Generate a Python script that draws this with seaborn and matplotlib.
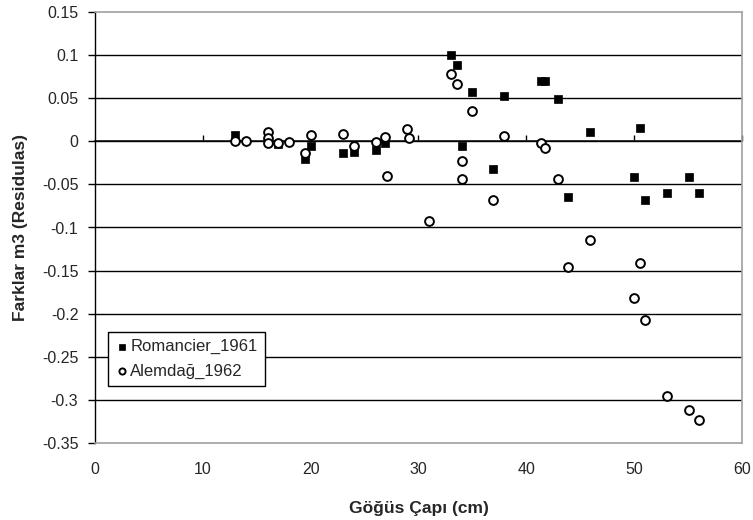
import numpy as np
import pandas as pd
import matplotlib
matplotlib.use("Agg")
import matplotlib.pyplot as plt
import seaborn as sns

# Romancier_1961 (kare, dolu)
rom_x = [13, 17, 19.5, 20, 23, 24, 26.1, 26.9, 33.0, 33.6, 34.0, 35.0, 36.9, 37.9,
         41.4, 41.7, 42.9, 43.9, 45.9, 50.0, 50.5, 51.0, 53.0, 55.1, 56.0]
rom_y = [0.007, -0.003, -0.021, -0.005, -0.014, -0.012, -0.010, -0.002, 0.100, 0.088,
         -0.005, 0.057, -0.032, 0.053, 0.070, 0.070, 0.049, -0.065, 0.011, -0.041,
         0.015, -0.068, -0.060, -0.041, -0.060]

# Alemdağ_1962 (daire, boş)
ale_x = [13, 14, 16, 16, 16, 17, 18, 19.5, 20, 23, 24, 26.1, 26.9, 27.1, 28.9, 29.1,
         31.0, 33.0, 33.6, 34.0, 34.0, 35.0, 36.9, 37.9, 41.4, 41.7, 42.9, 43.9,
         45.9, 50.0, 50.5, 51.0, 53.0, 55.1, 56.0]
ale_y = [0.0, 0.0, 0.011, 0.004, -0.002, -0.002, -0.001, -0.014, 0.007, 0.008, -0.006,
         -0.001, 0.005, -0.040, 0.014, 0.004, -0.093, 0.078, 0.067, -0.023, -0.044,
         0.035, -0.068, 0.006, -0.002, -0.008, -0.044, -0.146, -0.114, -0.182,
         -0.141, -0.207, -0.296, -0.312, -0.323]

x_ticks = [0, 10, 20, 30, 40, 50, 60]
y_ticks = [0.15, 0.1, 0.05, 0, -0.05, -0.1, -0.15, -0.2, -0.25, -0.3, -0.35]
y_labels = ["0.15", "0.1", "0.05", "0", "-0.05", "-0.1", "-0.15", "-0.2", "-0.25", "-0.3", "-0.35"]

sns.set_theme(style="white")
plt.rcParams['font.family'] = ['Liberation Sans', 'DejaVu Sans']

fig = plt.figure(figsize=(7.53, 5.2), dpi=100)
ax = fig.add_axes([95/753, 1 - 443/520, 647/753, 431/520])

# yatay ızgara çizgileri
for yv in y_ticks[1:-1]:
    ax.axhline(yv, color="black", lw=1.0, zorder=1)

df_rom = pd.DataFrame({"x": rom_x, "y": rom_y})
df_ale = pd.DataFrame({"x": ale_x, "y": ale_y})
sns.scatterplot(data=df_rom, x="x", y="y", ax=ax, marker="s", s=38, color="black",
                edgecolor="black", linewidth=0.5, label="Romancier_1961", zorder=3)
sns.scatterplot(data=df_ale, x="x", y="y", ax=ax, marker="o", s=40, facecolor="white",
                edgecolor="black", linewidth=1.4, label="Alemdağ_1962", zorder=4)

ax.set_xlim(0, 60)
ax.set_ylim(-0.35, 0.15)
ax.set_xticks(x_ticks)
ax.set_xticklabels([str(v) for v in x_ticks], fontsize=11.5)
ax.set_yticks(y_ticks)
ax.set_yticklabels(y_labels, fontsize=11.5)
ax.tick_params(axis="x", length=0, pad=14)
ax.tick_params(axis="y", length=5, width=1, direction="out", color="black", pad=7, left=True)

for side in ["top", "right", "bottom"]:
    ax.spines[side].set_color("#a0a0a0")
    ax.spines[side].set_linewidth(1.2)
ax.spines["left"].set_color("black")
ax.spines["left"].set_linewidth(1.0)

# y=0'da kesişen x ekseni ve tik işaretleri
sec = ax.secondary_xaxis(0.7)
sec.set_xticks(x_ticks[1:])
sec.set_xticklabels([])
sec.tick_params(axis="x", length=4, width=1, direction="out", color="black")
sec.spines["bottom"].set_color("black")
sec.spines["bottom"].set_linewidth(1.0)

ax.set_xlabel("Göğüs Çapı (cm)", fontsize=12.5, fontweight="bold", labelpad=17)
ax.set_ylabel("Farklar m3 (Residulas)", fontsize=12.5, fontweight="bold", labelpad=10)

leg = ax.legend(loc="lower left", bbox_to_anchor=(0.02, 0.132), fontsize=12,
                frameon=True, fancybox=False, framealpha=1, edgecolor="black",
                handletextpad=0.1, handlelength=0.8, borderpad=0.45, labelspacing=0.55,
                markerscale=0.7, borderaxespad=0)
leg.get_frame().set_linewidth(1.0)

fig.savefig("out.png", dpi=100)
